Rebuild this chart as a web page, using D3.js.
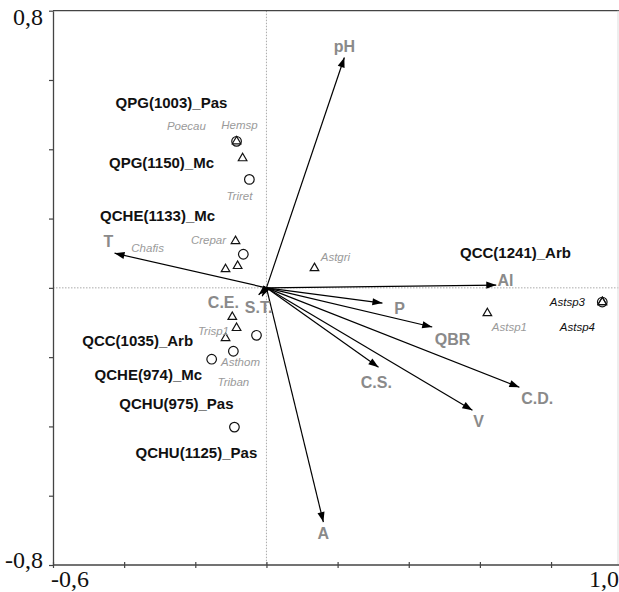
<!DOCTYPE html>
<html lang="en">
<head>
    <meta charset="UTF-8">
    <title>CCA biplot</title>
    <script src="https://d3js.org/d3.v7.min.js"></script>
    <style>
        body { margin: 0; background: #fff; }
        .tick-label { font-family: 'Liberation Serif', 'Times New Roman', serif; font-size: 24px; fill: #111; }
        .var { font-family: 'Liberation Sans', Arial, sans-serif; font-weight: bold; font-size: 16px; fill: #8a8a8a; }
        .site { font-family: 'Liberation Sans', Arial, sans-serif; font-weight: bold; font-size: 15px; fill: #111; }
        .spec { font-family: 'Liberation Sans', Arial, sans-serif; font-style: italic; font-size: 11.5px; fill: #9a9a9a; }
        .spec.dark { fill: #111; }
    </style>
</head>
<body>
<script>
    const width  = 619;
    const height = 592;

    // environmental variables (arrow tips) and where their labels sit
    const vars      = ["pH", "T", "Al", "P", "QBR", "C.S.", "V", "C.D.", "A", "C.E.", "S.T."];
    const varX      = [0.219, -0.427, 0.646, 0.326, 0.466, 0.315, 0.579, 0.711, 0.160, -0.022, -0.012];
    const varY      = [0.665, 0.100, 0.008, -0.044, -0.113, -0.229, -0.353, -0.287, -0.676, -0.020, -0.024];
    const varLabelX = [0.219, -0.444, 0.672, 0.374, 0.523, 0.309, 0.596, 0.761, 0.160, -0.121, -0.022];
    const varLabelY = [0.681, 0.118, 0.005, -0.076, -0.166, -0.289, -0.402, -0.336, -0.725, -0.058, -0.073];

    // sites (circles)
    const sites      = ["QPG(1003)_Pas", "QPG(1150)_Mc", "QCHE(1133)_Mc", "QCC(1241)_Arb",
                        "QCC(1035)_Arb", "QCHE(974)_Mc", "QCHU(975)_Pas", "QCHU(1125)_Pas"];
    const siteX      = [-0.084, -0.048, -0.065, 0.944, -0.028, -0.154, -0.093, -0.090];
    const siteY      = [0.423, 0.313, 0.097, -0.041, -0.137, -0.206, -0.183, -0.402];
    const siteLabelX = [-0.267, -0.295, -0.306, 0.700, -0.362, -0.332, -0.253, -0.197];
    const siteLabelY = [0.519, 0.346, 0.193, 0.086, -0.168, -0.266, -0.350, -0.491];

    // species (triangles)
    const species    = ["Poecau", "Hemsp", "Triret", "Crepar", "Chafis", "Astgri",
                        "Trisp1", "Asthom", "Triban", "Astsp1", "Astsp3", "Astsp4"];
    const specX      = [-0.084, -0.067, -0.081, -0.087, -0.115, 0.135, -0.115, -0.084, -0.096, 0.621, 0.944, 0.944];
    const specY      = [0.423, 0.374, 0.063, 0.135, 0.054, 0.057, -0.145, -0.116, -0.084, -0.073, -0.041, -0.041];
    const specLabelX = [-0.225, -0.076, -0.076, -0.163, -0.334, 0.194, -0.149, -0.073, -0.093, 0.683, 0.846, 0.874];
    const specLabelY = [0.455, 0.458, 0.253, 0.126, 0.103, 0.077, -0.137, -0.226, -0.284, -0.125, -0.053, -0.125];
    const darkSpecies = ["Astsp3", "Astsp4"];

    const xTicks = [-0.6, -0.4, -0.2, 0, 0.2, 0.4, 0.6, 0.8, 1.0];
    const yTicks = [-0.8, -0.6, -0.4, -0.2, 0, 0.2, 0.4, 0.6, 0.8];
    const xEndLabels = ["-0,6", "1,0"];
    const yEndLabels = ["0,8", "-0,8"];

    const x = d3.scaleLinear().domain([-0.6, 1.0]).range([53, 622.2]);
    const y = d3.scaleLinear().domain([-0.8, 0.8]).range([565, 10.7]);

    const svg = d3.select("body").append("svg").attr("width", width).attr("height", height);

    svg.append("defs").append("marker")
        .attr("id", "head")
        .attr("viewBox", "0 -4 10 8")
        .attr("refX", 10).attr("refY", 0)
        .attr("markerUnits", "userSpaceOnUse")
        .attr("markerWidth", 11).attr("markerHeight", 8)
        .attr("orient", "auto")
        .append("path").attr("d", "M0,-3.6L10,0L0,3.6Z").attr("fill", "#000");

    // dotted zero lines
    svg.append("line")
        .attr("x1", x(0)).attr("x2", x(0)).attr("y1", y(0.8)).attr("y2", y(-0.8))
        .attr("stroke", "#aaa").attr("stroke-dasharray", "1.5,1.5");
    svg.append("line")
        .attr("x1", x(-0.6)).attr("x2", width).attr("y1", y(0)).attr("y2", y(0))
        .attr("stroke", "#aaa").attr("stroke-dasharray", "1.5,1.5");

    // frame: top and right edge
    svg.append("line")
        .attr("x1", x(-0.6)).attr("x2", width).attr("y1", y(0.8)).attr("y2", y(0.8))
        .attr("stroke", "#444").attr("stroke-width", 1.3);
    svg.append("line")
        .attr("x1", width - 1).attr("x2", width - 1).attr("y1", y(0.8)).attr("y2", y(-0.8))
        .attr("stroke", "#ddd");

    // axes
    const gy = svg.append("g")
        .attr("transform", "translate(" + x(-0.6) + ",0)")
        .call(d3.axisLeft(y).tickValues(yTicks).tickSize(4).tickSizeOuter(0).tickFormat(""));
    const gx = svg.append("g")
        .attr("transform", "translate(0," + y(-0.8) + ")")
        .call(d3.axisBottom(x).tickValues(xTicks.slice(0, -1)).tickSize(3).tickSizeOuter(0).tickFormat(""));
    gx.selectAll(".tick line").attr("y1", -3);
    gx.select(".domain").attr("d", "M" + x(-0.6) + ",0H" + width);
    [gx, gy].forEach(g => {
        g.select(".domain").attr("stroke", "#444").attr("stroke-width", 1.3);
        g.selectAll(".tick line").attr("stroke", "#444").attr("stroke-width", 1.2);
    });

    svg.append("text").attr("class", "tick-label")
        .attr("x", 43).attr("y", y(0.8) + 14).attr("text-anchor", "end").text(yEndLabels[0]);
    svg.append("text").attr("class", "tick-label")
        .attr("x", 43).attr("y", y(-0.8) + 3).attr("text-anchor", "end").text(yEndLabels[1]);
    svg.append("text").attr("class", "tick-label")
        .attr("x", x(-0.6) - 2).attr("y", 587).text(xEndLabels[0]);
    svg.append("text").attr("class", "tick-label")
        .attr("x", width).attr("y", 587).attr("text-anchor", "end").text(xEndLabels[1]);

    // arrows
    svg.selectAll(".arrow")
        .data(vars)
        .enter()
        .append("line").attr("class", "arrow")
        .attr("x1", x(0)).attr("y1", y(0))
        .attr("x2", (d, i) => x(varX[i]))
        .attr("y2", (d, i) => y(varY[i]))
        .attr("stroke", "#000").attr("stroke-width", 1.2)
        .attr("marker-end", "url(#head)");

    svg.selectAll(".var")
        .data(vars)
        .enter()
        .append("text").attr("class", "var")
        .attr("text-anchor", "middle")
        .attr("x", (d, i) => x(varLabelX[i]))
        .attr("y", (d, i) => y(varLabelY[i]))
        .text(d => d);

    // site circles
    svg.selectAll(".site-pt")
        .data(sites)
        .enter()
        .append("circle").attr("class", "site-pt")
        .attr("cx", (d, i) => x(siteX[i]))
        .attr("cy", (d, i) => y(siteY[i]))
        .attr("r", 4.8)
        .attr("fill", "none").attr("stroke", "#111").attr("stroke-width", 1.2);

    // species triangles
    const tri = d3.symbol().type(d3.symbolTriangle).size(32);
    svg.selectAll(".spec-pt")
        .data(species)
        .enter()
        .append("path").attr("class", "spec-pt")
        .attr("d", tri)
        .attr("transform", (d, i) => "translate(" + [x(specX[i]), y(specY[i])] + ")")
        .attr("fill", "none").attr("stroke", "#111").attr("stroke-width", 1.2);

    svg.selectAll(".site")
        .data(sites)
        .enter()
        .append("text").attr("class", "site")
        .attr("text-anchor", "middle")
        .attr("x", (d, i) => x(siteLabelX[i]))
        .attr("y", (d, i) => y(siteLabelY[i]))
        .text(d => d);

    svg.selectAll(".spec")
        .data(species)
        .enter()
        .append("text")
        .attr("class", d => darkSpecies.includes(d) ? "spec dark" : "spec")
        .attr("text-anchor", "middle")
        .attr("x", (d, i) => x(specLabelX[i]))
        .attr("y", (d, i) => y(specLabelY[i]))
        .text(d => d);
</script>
</body>
</html>
